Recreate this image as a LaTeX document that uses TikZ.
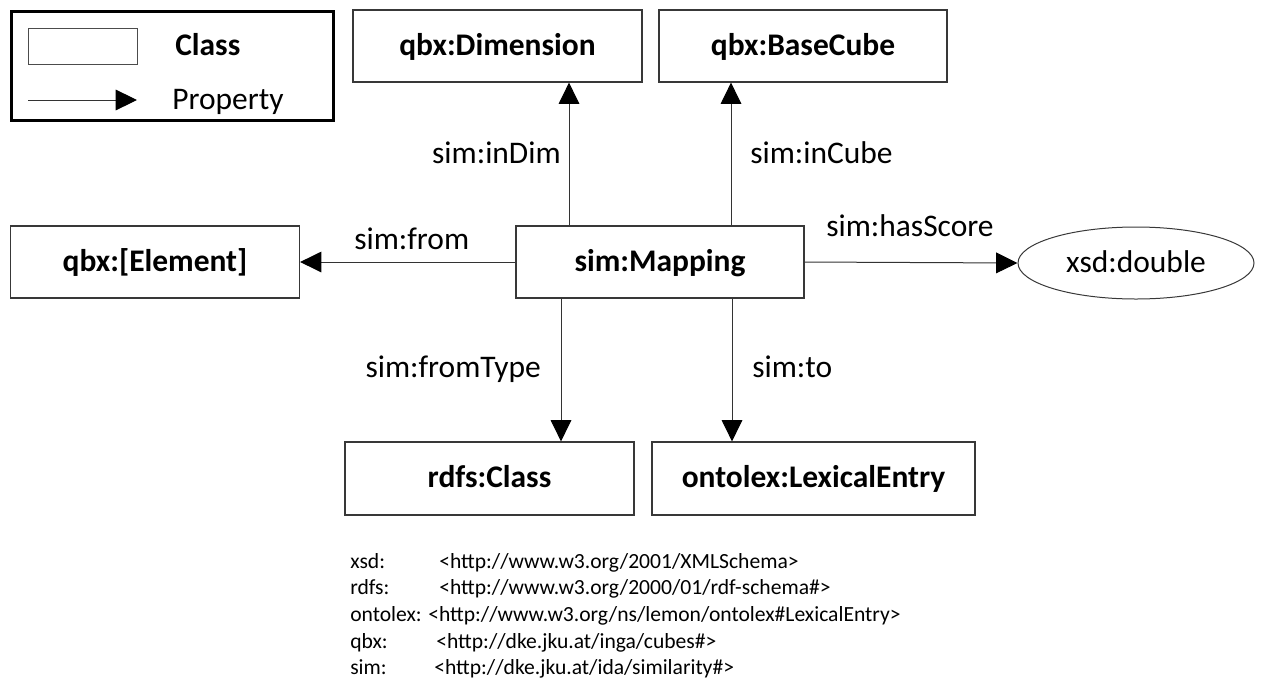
\documentclass[tikz,border=0pt]{standalone}
\usepackage{fontspec}
\setmainfont{Carlito}
\usetikzlibrary{arrows.meta,shapes.geometric}

\newcommand{\bigtxt}{\fontsize{23.6}{28}\selectfont}
\newcommand{\smalltxt}{\fontsize{16.2}{19}\selectfont}

\tikzset{
  classbox/.style={draw=black!78, line width=0.9pt, minimum width=216.75pt,
    minimum height=54pt, inner sep=0pt, font=\bigtxt\bfseries,
    text height=18.9pt, text depth=5.4pt},
  literal/.style={ellipse, draw=black!78, line width=0.75pt, minimum width=177pt,
    minimum height=54pt, inner sep=0pt, font=\bigtxt,
    text height=18.9pt, text depth=5.4pt},
  prop/.style={draw=black!80, line width=0.75pt,
    -{Triangle[length=16pt,width=15.5pt,color=black]}},
  lbl/.style={inner sep=0pt, font=\bigtxt},
  ns/.style={inner sep=0pt, font=\smalltxt, anchor=base west},
}

\begin{document}
\begin{tikzpicture}[x=0.75pt,y=-0.75pt]
\useasboundingbox (0,0) rectangle (1262,682);

% legend
\node[draw=black, line width=2.25pt, minimum width=241.5pt, minimum height=81.4pt,
  inner sep=0pt] (legend) at (172.5,65.75) {};
\node[draw=black!70, line width=0.75pt, minimum width=81.75pt, minimum height=27pt,
  inner sep=0pt] (sample) at (82.5,46) {};
\node[lbl, anchor=base west, font=\bigtxt\bfseries] (classtxt) at (175,55) {Class};
\coordinate (ps) at (28,100);
\coordinate (pe) at (137,100);
\draw[prop] (ps) -- (pe);
\node[lbl, anchor=base west] (proptxt) at (172,109) {Property};

% classes
\node[classbox] (dim) at (497.5,46) {qbx:Dimension};
\node[classbox, minimum width=216pt] (cube) at (803,46) {qbx:BaseCube};
\node[classbox, minimum width=216pt] (map) at (660,262) {sim:Mapping};
\node[classbox] (elem) at (155,262) {qbx:[Element]};
\node[literal] (dbl) at (1136,263) {xsd:double};
\node[classbox, minimum height=54.75pt] (rdfs) at (489.5,478.5) {rdfs:Class};
\node[classbox, minimum width=242.25pt, minimum height=54.75pt] (lex) at (813.5,478.5) {ontolex:LexicalEntry};

% connector columns
\coordinate (xDim) at (569,0);
\coordinate (xCube) at (731,0);
\coordinate (xType) at (561,0);
\coordinate (xTo) at (732,0);

% properties
\draw[prop] (xDim |- map.north) -- (xDim |- dim.south);
\draw[prop] (xCube |- map.north) -- (xCube |- cube.south);
\draw[prop] (map.west) -- (elem.east);
\draw[prop] (map.east) -- (dbl.west);
\draw[prop] (xType |- map.south) -- (xType |- rdfs.north);
\draw[prop] (xTo |- map.south) -- (xTo |- lex.north);

% property labels
\node[lbl, anchor=base east] (lInDim) at (561,163) {sim:inDim};
\node[lbl, anchor=base west] (lInCube) at (750,163) {sim:inCube};
\node[lbl, anchor=base west] (lFrom) at (354,249) {sim:from};
\node[lbl, anchor=base west] (lScore) at (826,236) {sim:hasScore};
\node[lbl, anchor=base east] (lType) at (541,377) {sim:fromType};
\node[lbl, anchor=base west] (lTo) at (752,377) {sim:to};

% namespaces
\node[ns] (p1) at (350,568) {xsd:};
\node[ns] (u1) at (439,568) {<http://www.w3.org/2001/XMLSchema>};
\node[ns] (p2) at (350,594.7) {rdfs:};
\node[ns] (u2) at (439,594.7) {<http://www.w3.org/2000/01/rdf-schema\#>};
\node[ns] (p3) at (350,621.4) {ontolex:};
\node[ns] (u3) at (428,621.4) {<http://www.w3.org/ns/lemon/ontolex\#LexicalEntry>};
\node[ns] (p4) at (350,648.1) {qbx:};
\node[ns] (u4) at (436,648.1) {<http://dke.jku.at/inga/cubes\#>};
\node[ns] (p5) at (350,674.8) {sim:};
\node[ns] (u5) at (434,674.8) {<http://dke.jku.at/ida/similarity\#>};
\end{tikzpicture}
\end{document}
